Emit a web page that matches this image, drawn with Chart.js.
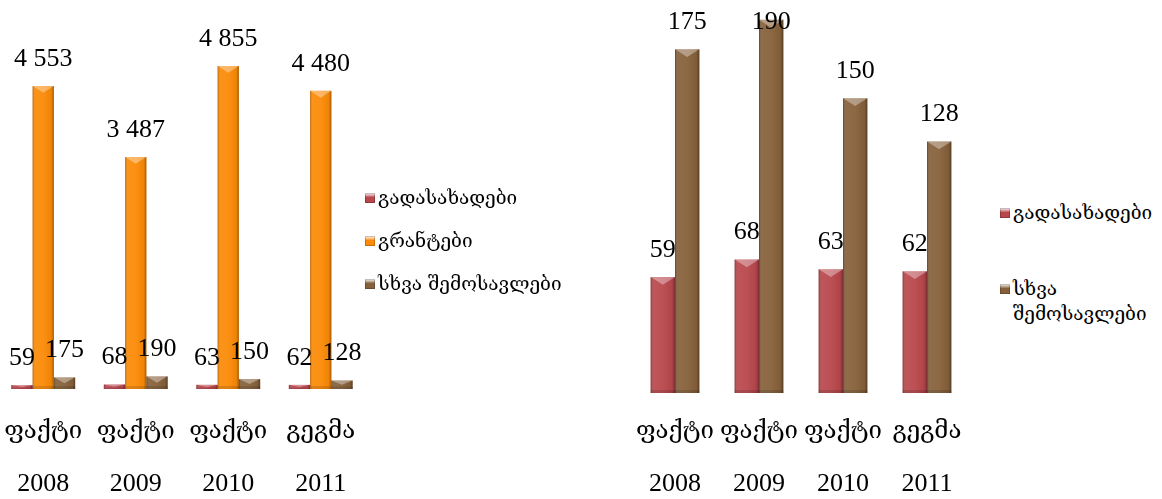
<!DOCTYPE html>
<html>
  <head>
    <meta charset="utf-8">
    <title>შემოსავლები</title>
    <script src="https://cdn.jsdelivr.net/npm/chart.js@4.4.1/dist/chart.umd.min.js"></script>
    <style>
      html, body { margin: 0; padding: 0; background: #fff; overflow: hidden; }
      body { width: 1162px; height: 499px; position: relative; }
      .box { position: absolute; top: 0; height: 499px; }
      .legend { position: absolute; font-family: "DejaVu Serif", serif; font-size: 19px; color: #000; }
      .legend .item { position: absolute; white-space: nowrap; line-height: 25px; }
      .legend .sw { position: absolute; left: 0; top: 8px; width: 10px; height: 10px; }
      .legend .tx { position: absolute; left: 13px; top: 0; }
    </style>
  </head>

  <body>
    <div class="box" style="left:-3px; width:370px"><canvas id="left" width="370" height="499"></canvas></div>
    <div class="legend" id="legendLeft" style="left:365px; top:0"></div>
    <div class="box" style="left:633px; width:336px"><canvas id="right" width="336" height="499"></canvas></div>
    <div class="legend" id="legendRight" style="left:1000px; top:0"></div>
    <script>
      // categories
      const kinds = ['ფაქტი', 'ფაქტი', 'ფაქტი', 'გეგმა'];
      const years = ['2008', '2009', '2010', '2011'];

      // series
      const taxes = [59, 68, 63, 62];
      const grants = [4553, 3487, 4855, 4480];
      const other = [175, 190, 150, 128];

      const seriesNames = ['გადასახადები', 'გრანტები', 'სხვა შემოსავლები'];
      const colors = ['#b8474c', '#fb8a06', '#86603a'];

      const serif = '"Liberation Serif", "DejaVu Serif", serif';
      const geo = '"DejaVu Serif", serif';

      function fmt(v) {
        return String(v).replace(/\B(?=(\d{3})+(?!\d))/g, ' ');
      }

      // bevel look + value labels on top of every bar
      const bevel = {
        id: 'bevel',
        afterDatasetsDraw(chart) {
          const ctx = chart.ctx;
          chart.data.datasets.forEach((ds, di) => {
            const meta = chart.getDatasetMeta(di);
            meta.data.forEach((bar, i) => {
              const p = bar.getProps(['x', 'y', 'base', 'width'], true);
              const l = p.x - p.width / 2, r = p.x + p.width / 2;
              const t = Math.min(p.y, p.base), b = Math.max(p.y, p.base);
              const h = b - t;
              ctx.save();
              const g = ctx.createLinearGradient(l, 0, r, 0);
              g.addColorStop(0, 'rgba(0,0,0,0.28)');
              g.addColorStop(0.12, 'rgba(255,255,255,0.08)');
              g.addColorStop(0.5, 'rgba(255,255,255,0.05)');
              g.addColorStop(0.88, 'rgba(0,0,0,0.05)');
              g.addColorStop(1, 'rgba(0,0,0,0.35)');
              ctx.fillStyle = g;
              ctx.fillRect(l, t, p.width, h);
              const d = Math.min(p.width * 0.32, h * 0.5);
              ctx.beginPath();
              ctx.moveTo(l, t);
              ctx.lineTo(r, t);
              ctx.lineTo(p.x, t + d);
              ctx.closePath();
              ctx.fillStyle = 'rgba(255,255,255,0.35)';
              ctx.fill();
              ctx.fillStyle = 'rgba(0,0,0,0.12)';
              ctx.fillRect(l, b - Math.min(3, h * 0.3), p.width, Math.min(3, h * 0.3));
              ctx.restore();

              ctx.save();
              ctx.font = '26px ' + serif;
              ctx.fillStyle = '#000';
              ctx.textAlign = 'center';
              ctx.textBaseline = 'middle';
              ctx.fillText(fmt(ds.data[i]), p.x, Math.max(t - 27, 22));
              ctx.restore();
            });
          });
        }
      };

      // invisible tick marks push the labels down without adding side padding
      function hiddenGrid(len) {
        return { display: true, color: 'transparent', drawOnChartArea: false, drawTicks: true, tickLength: len };
      }

      function makeChart(id, sets, max, padTop, pct, axisH, tickLen) {
        return new Chart(document.getElementById(id), {
          type: 'bar',
          data: {
            labels: kinds,
            datasets: sets.map(s => ({
              label: seriesNames[s.k],
              data: s.data,
              backgroundColor: colors[s.k],
              borderWidth: 0,
              categoryPercentage: pct,
              barPercentage: 1
            }))
          },
          options: {
            responsive: false,
            animation: false,
            devicePixelRatio: 1,
            layout: { padding: { top: padTop, left: 0, right: 0, bottom: 0 } },
            plugins: { legend: { display: false }, tooltip: { enabled: false } },
            scales: {
              x: {
                grid: hiddenGrid(tickLen),
                border: { display: false },
                afterFit: s => { s.height = axisH; },
                ticks: {
                  color: '#000',
                  padding: 0,
                  maxRotation: 0,
                  autoSkip: false,
                  font: { family: geo, size: 24, lineHeight: 1 }
                }
              },
              x2: {
                type: 'category',
                labels: years,
                position: 'bottom',
                offset: true,
                grid: hiddenGrid(13),
                border: { display: false },
                afterFit: s => { s.height = 41; },
                ticks: {
                  color: '#000',
                  padding: 0,
                  maxRotation: 0,
                  autoSkip: false,
                  font: { family: serif, size: 26, lineHeight: 1 }
                }
              },
              y: { display: false, min: 0, max: max }
            }
          },
          plugins: [bevel]
        });
      }

      makeChart('left', [
        { k: 0, data: taxes },
        { k: 1, data: grants },
        { k: 2, data: other }
      ], 5800, 3, 0.69, 69, 31);

      makeChart('right', [
        { k: 0, data: taxes },
        { k: 2, data: other }
      ], 200, 0, 0.58, 65, 27);

      function legend(elId, items) {
        const el = document.getElementById(elId);
        items.forEach(it => {
          const d = document.createElement('div');
          d.className = 'item';
          d.style.top = it.top + 'px';
          const c = colors[it.k];
          d.innerHTML = '<span class="sw" style="background:linear-gradient(180deg,#fff8 0,' + c + ' 45%,' + c + ' 100%);box-shadow:inset 0 0 0 1px #0003"></span>' +
            '<span class="tx">' + it.lines.join('<br>') + '</span>';
          el.appendChild(d);
        });
      }

      legend('legendLeft', [
        { k: 0, top: 185, lines: [seriesNames[0]] },
        { k: 1, top: 228, lines: [seriesNames[1]] },
        { k: 2, top: 271, lines: [seriesNames[2]] }
      ]);
      legend('legendRight', [
        { k: 0, top: 200, lines: [seriesNames[0]] },
        { k: 2, top: 276, lines: ['სხვა', 'შემოსავლები'] }
      ]);
    </script>
  </body>
</html>
